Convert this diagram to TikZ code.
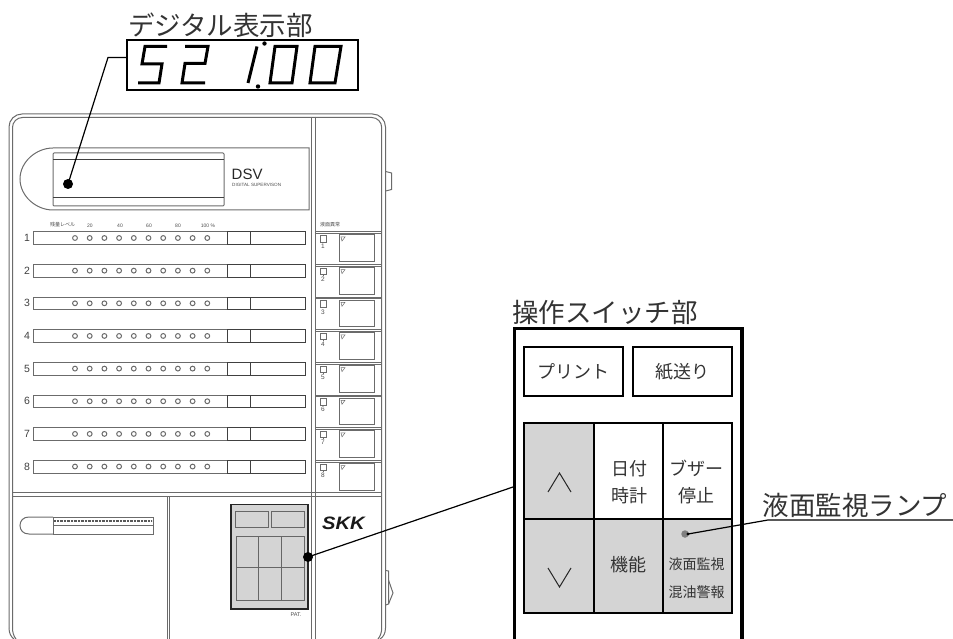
\documentclass[tikz,border=0pt]{standalone}
\usepackage{fontspec}
\setmainfont{Liberation Sans}
\newfontfamily\jp{Noto Sans CJK JP}
\definecolor{panelgray}{gray}{0.42}
\definecolor{keygray}{gray}{0.83}
\definecolor{txt}{gray}{0.2}
\tikzset{
  panel/.style={draw=panelgray,line width=1pt},
  darkline/.style={draw=black!75,line width=1pt},
  seg/.style={draw=black,line width=3pt,line join=miter},
  title/.style={inner sep=0pt,text=txt,font=\jp\fontsize{26.5}{26.5}\selectfont},
  key/.style={inner sep=0pt,text=txt,font=\jp\fontsize{18}{27}\selectfont,align=center},
  smallkey/.style={inner sep=0pt,text=txt,font=\jp\fontsize{14}{28}\selectfont,align=center},
  tiny/.style={inner sep=0pt,text=black!70,font=\fontsize{5}{5}\selectfont},
  rownum/.style={inner sep=0pt,text=black!75,font=\fontsize{10.5}{10.5}\selectfont},
  cell/.style={draw=black,line width=1.2pt,minimum width=0pt,inner sep=0pt},
  leader/.style={draw=black,line width=1.2pt},
  bigdot/.style={circle,fill=black,inner sep=0pt,minimum size=10pt}
}
\begin{document}
\begin{tikzpicture}[x=1pt,y=-1pt]
\useasboundingbox (0,0) rectangle (953,639);
\clip (0,0) rectangle (953,639);
% titles
\node[title] (t1) at (220.5,25) {デジタル表示部};
\node[title] (t2) at (605,312) {操作スイッチ部};
\node[title] (t3) at (855,505) {液面監視ランプ};
% display
\node[draw=black,line width=1.4pt,minimum width=231pt,minimum height=50pt,inner sep=0pt] (disp) at (242.5,65) {};
\draw[seg] (167,46.5)--(145,46.5)--(142,64)--(162,64)--(159,83)--(138,83);
\draw[seg] (185,46.5)--(208,46.5)--(205,63.5)--(185,63.5)--(182,83)--(205,83);
\draw[seg] (257,46.5)--(248,83);
\draw[seg] (275,46.5)--(297,46.5)--(292,83)--(270,83)--cycle;
\draw[seg] (315,46.5)--(341,46.5)--(335,83)--(310,83)--cycle;
\fill (264.5,43.5) circle (2.2);
\fill (258,86.5) circle (2.2);
% panel body
\draw[panel,rounded corners=13pt] (9,628) -- (9,114) -- (385.5,114) -- (385.5,628);
\draw[panel,rounded corners=10pt] (12.5,628) -- (12.5,117.5) -- (381.7,117.5) -- (381.7,628);
\draw[panel] (311.7,117) -- (311.7,645) (315.7,117) -- (315.7,645);
\draw[panel] (9,628) .. controls (9,633) and (11,637) .. (14,639);
\draw[panel] (12.5,628) .. controls (12.5,632) and (13.5,636) .. (16,639);
\draw[panel] (385.5,628) .. controls (385.5,633) and (383.5,637) .. (380,639);
\draw[panel] (381.7,628) .. controls (381.7,632) and (380.5,636) .. (378,639);
% side tabs
\draw[panel] (385.7,171.5) -- (391.5,173) -- (391.5,189.5) -- (385.7,191);
\draw[panel] (385.7,570.5) -- (388.5,571) -- (388.5,604) -- (385.7,605);
\draw[panel] (388.5,580) -- (393,593) -- (388.5,604);
% display window
\draw[panel] (53,148) .. controls (36,148) and (20,162) .. (20,179) .. controls (20,196) and (36,210) .. (53,210) -- (309,210) -- (309,148) -- cycle;
\draw[panel,rounded corners=1pt] (53,153) rectangle (224,206);
\draw[darkline] (53,160) -- (224,160) (53,198) -- (224,198);
\node[inner sep=0pt,anchor=west,text=black!85,font=\fontsize{15}{15}\selectfont] (dsv) at (231.5,174.5) {DSV};
\node[tiny,anchor=west,font=\fontsize{4.6}{5}\selectfont] (dsvs) at (232,185) {DIGITAL SUPERVISON};
% scale
\node[tiny,font=\jp\fontsize{5}{5}\selectfont] (lvl) at (62.5,225) {残量レベル};
\node[tiny] (s20) at (90,225.5) {20};
\node[tiny] (s40) at (120,225.5) {40};
\node[tiny] (s60) at (149,225.5) {60};
\node[tiny] (s80) at (178,225.5) {80};
\node[tiny] (s100) at (208,225.5) {100 \%};
\node[tiny,font=\jp\fontsize{5}{5}\selectfont] (lq) at (330,224.5) {液面異常};
% rows
\foreach \n [evaluate=\n as \y using {232+(\n-1)*32.65}] in {1,...,8}{
  \draw[panel] (33.5,\y) rectangle (305,\y+12.5);
  \draw[darkline] (227.5,\y) rectangle (305,\y+12.5) (250.5,\y) -- (250.5,\y+12.5);
  \foreach \k in {0,...,9}
    \draw[panel] (75+\k*14.7,\y+6) circle (2.4);
  \node[rownum] (r\n) at (27,\y+6) {\n};
  \draw[panel] (315.7,\y) -- (381.7,\y) (315.7,\y+1.5) -- (381.7,\y+1.5);
  \draw[panel] (320,\y+3.5) rectangle (326,\y+10);
  \draw[panel] (323,\y+10) -- (323,\y+11);
  \node[tiny,font=\fontsize{6.5}{6.5}\selectfont] (q\n) at (323,\y+14.5) {\n};
  \draw[panel] (339,\y+3) rectangle (374,\y+29.5);
  \draw[panel,line width=0.5pt] (341,\y+5) -- (345,\y+5) -- (342,\y+9) -- cycle;
}
% lower part
\draw[panel] (12.5,492.3) -- (381.7,492.3) (12.5,496) -- (381.7,496);
\draw[panel] (167,496) -- (167,645) (169.3,496) -- (169.3,645);
\draw[panel] (53,517) -- (29,517) .. controls (23,517) and (20,521) .. (20,525.5) .. controls (20,530) and (23,534) .. (29,534) -- (53,534);
\draw[panel] (53,517) -- (153,517) -- (153,534) -- (53,534) -- cycle (53,525) -- (153,525);
\draw[draw=black!65,line width=1.4pt,dash pattern=on 0.8pt off 0.6pt] (54,520.8) -- (152,520.8);
% small switch box
\node[draw=black!85,fill=keygray,line width=1.5pt,minimum width=77pt,minimum height=104.5pt,inner sep=0pt] (sw) at (269.5,556.8) {};
\draw[panel,draw=black!60] (235.5,511) rectangle (268,527.5) (271.5,511) rectangle (304,527.5);
\draw[panel,draw=black!60] (236,536.5) rectangle (304,600) (258.5,536.5) -- (258.5,600) (281.5,536.5) -- (281.5,600) (236,567.5) -- (304,567.5);
\node[tiny,font=\fontsize{5.5}{5.5}\selectfont] (pat) at (296,614.5) {PAT.};
\node[inner sep=0pt,text=black!90,xscale=1.12,font=\bfseries\itshape\fontsize{18}{18}\selectfont] (skk) at (343.5,523) {SKK};
% big switch panel
\draw[draw=black,line width=3.4pt] (514.5,650) |- (742,328.5) -- (742,650);
\node[cell,minimum width=99pt,minimum height=49pt,key] (print) at (573.5,371.5) {プリント};
\node[cell,minimum width=99pt,minimum height=49pt,key] (feed) at (682.5,371.5) {紙送り};
\node[cell,fill=keygray,minimum width=70pt,minimum height=96pt] (up) at (559,471) {};
\node[cell,minimum width=69pt,minimum height=96pt,key] (date) at (628.5,471) {};
\node[cell,minimum width=69pt,minimum height=96pt,key] (buz) at (697.5,471) {};
\node[cell,fill=keygray,minimum width=70pt,minimum height=94pt] (down) at (559,566) {};
\node[cell,fill=keygray,minimum width=69pt,minimum height=94pt] (func) at (628.5,566) {};
\node[cell,fill=keygray,minimum width=69pt,minimum height=94pt] (alarm) at (697.5,566) {};
\node[key] (datet) at (629,482) {日付\\時計};
\node[key] (buzt) at (696,482) {ブザー\\停止};
\node[key] (funct) at (628.5,564.5) {機能};
\node[smallkey] (alarmt) at (696.5,578) {液面監視\\混油警報};
\draw[black!85,line width=1pt] (548,492) -- (559.5,473) -- (571,492);
\draw[black!85,line width=1pt] (548,568) -- (559.5,587) -- (571,568);
% leaders
\node[bigdot] (d1) at (68,184) {};
\node[bigdot] (d2) at (308,557) {};
\node[circle,fill=gray,inner sep=0pt,minimum size=7.5pt] (lamp) at (685,534) {};
\coordinate (k1) at (108,57.5);
\coordinate (k3) at (768,520);
\coordinate (e3) at (953,520);
\coordinate (bx) at (513,487);
\draw[leader] (disp.west |- k1) -- (k1) -- (d1.center);
\draw[leader] (d2.center) -- (bx);
\fill (lamp.center)+(3,0) circle (1.6);
\draw[leader] (lamp.center)++(3,0) -- (k3) -- (e3);
\end{tikzpicture}
\end{document}
